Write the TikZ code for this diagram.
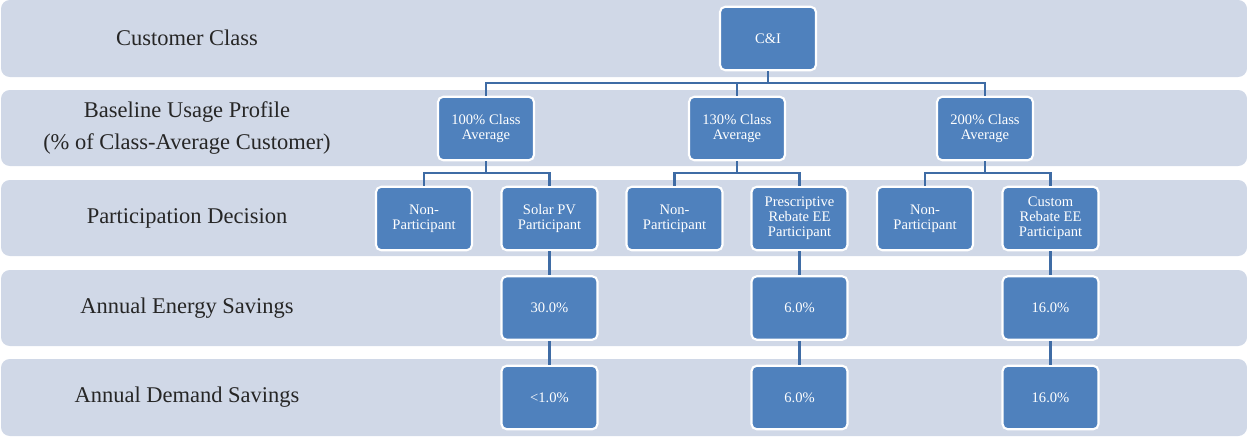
\documentclass[tikz,border=0pt]{standalone}
\usepackage{fontspec}
\setmainfont{Liberation Serif}
\definecolor{bandfill}{HTML}{D0D8E7}
\definecolor{boxfill}{HTML}{4F81BD}
\definecolor{linkcol}{HTML}{3F6CA5}
\tikzset{
  band/.style={fill=bandfill, rounded corners=5},
  rowlabel/.style={font=\fontsize{12.8}{18}\selectfont, align=center, text=black!85},
  lvlbox/.style={draw=white, line width=1.2pt, fill=boxfill, rounded corners=3,
    minimum width=1.92cm, minimum height=1.27cm, inner sep=1pt,
    text=white, align=center, font=\fontsize{8.3}{8.6}\selectfont},
  link/.style={draw=linkcol, line width=1.4pt}
}
\begin{document}
\begin{tikzpicture}[x=0.02cm, y=-0.02cm]
\useasboundingbox (0,0) rectangle (1247,436);
% bands
\fill[band] (1,0) rectangle (1247,77);
\fill[band] (1,90) rectangle (1247,166);
\fill[band] (1,180) rectangle (1247,256);
\fill[band] (1,270) rectangle (1247,346);
\fill[band] (1,359) rectangle (1247,436);
% row labels
\node[rowlabel] (lclass) at (187,38) {Customer Class};
\node[rowlabel] (lbase) at (187,128) {Baseline Usage Profile\\(\% of Class-Average Customer)};
\node[rowlabel] (lpart) at (187,218) {Participation Decision};
\node[rowlabel] (lenergy) at (187,308) {Annual Energy Savings};
\node[rowlabel] (ldemand) at (187,397) {Annual Demand Savings};
% boxes
\node[lvlbox] (ci) at (768,38.5) {C\&I};
\node[lvlbox] (avga) at (486,128.5) {100\% Class\\Average};
\node[lvlbox] (avgb) at (737,128.5) {130\% Class\\Average};
\node[lvlbox] (avgc) at (985,128.5) {200\% Class\\Average};
\node[lvlbox] (nona) at (424,218.5) {Non-\\Participant};
\node[lvlbox] (solar) at (549.5,218.5) {Solar PV\\Participant};
\node[lvlbox] (nonb) at (674.5,218.5) {Non-\\Participant};
\node[lvlbox] (presc) at (799.5,218.5) {Prescriptive\\Rebate EE\\Participant};
\node[lvlbox] (nonc) at (925,218.5) {Non-\\Participant};
\node[lvlbox] (custom) at (1050.5,218.5) {Custom\\Rebate EE\\Participant};
\node[lvlbox] (ena) at (549.5,308) {30.0\%};
\node[lvlbox] (enb) at (799.5,308) {6.0\%};
\node[lvlbox] (enc) at (1050.5,308) {16.0\%};
\node[lvlbox] (dma) at (549.5,397.5) {<1.0\%};
\node[lvlbox] (dmb) at (799.5,397.5) {6.0\%};
\node[lvlbox] (dmc) at (1050.5,397.5) {16.0\%};
% junctions
\coordinate (jci) at (768,83);
\coordinate (ja) at (486,173);
\coordinate (jb) at (737,173);
\coordinate (jc) at (985,173);
% connectors
\draw[link] (ci.south) -- (jci);
\draw[link] (jci) -| (avga.north);
\draw[link] (jci) -| (avgb.north);
\draw[link] (jci) -| (avgc.north);
\draw[link] (avga.south) -- (ja);
\draw[link] (ja) -| (nona.north);
\draw[link] (ja) -| (solar.north);
\draw[link] (avgb.south) -- (jb);
\draw[link] (jb) -| (nonb.north);
\draw[link] (jb) -| (presc.north);
\draw[link] (avgc.south) -- (jc);
\draw[link] (jc) -| (nonc.north);
\draw[link] (jc) -| (custom.north);
\draw[link] (solar) -- (ena) -- (dma);
\draw[link] (presc) -- (enb) -- (dmb);
\draw[link] (custom) -- (enc) -- (dmc);
\end{tikzpicture}
\end{document}
